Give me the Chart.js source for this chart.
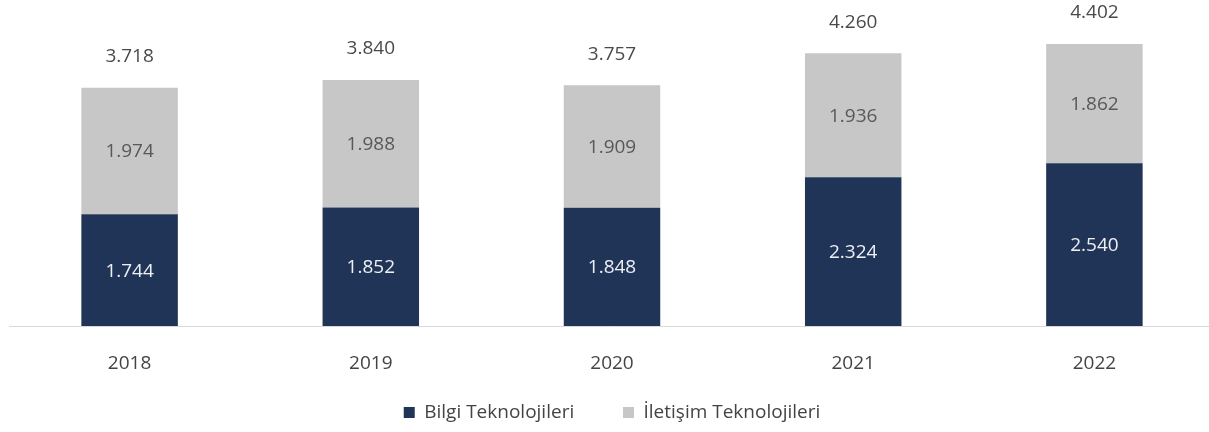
<!DOCTYPE html>
<html>
<head>
<meta charset="utf-8">
<script src="https://cdn.jsdelivr.net/npm/chart.js@4"></script>
<style>
  html, body { margin: 0; padding: 0; background: #fff; overflow: hidden; }
  #wrap { width: 1215px; height: 432px; }
</style>
</head>
<body>
<div id="wrap"><canvas id="chart"></canvas></div>
<script>
var years = ["2018", "2019", "2020", "2021", "2022"];
var bilgi = [1744, 1852, 1848, 2324, 2540];
var iletisim = [1974, 1988, 1909, 1936, 1862];
var totals = [3718, 3840, 3757, 4260, 4402];

function fmt(v) {
    return v.toLocaleString("tr-TR");
}

// labels inside the bars and totals on top
var barLabels = {
    id: "barLabels",
    afterDatasetsDraw: function(chart) {
        var ctx = chart.ctx;
        ctx.save();
        ctx.textAlign = "center";
        ctx.textBaseline = "middle";
        ctx.font = "19px 'Open Sans'";
        chart.data.datasets.forEach(function(ds, di) {
            chart.getDatasetMeta(di).data.forEach(function(bar, i) {
                var mid = (bar.y + bar.base) / 2;
                ctx.fillStyle = di === 0 ? "#eef0f4" : "#585858";
                ctx.fillText(fmt(ds.data[i]), bar.x, mid + 1);
            });
        });
        var top = chart.getDatasetMeta(1).data;
        ctx.fillStyle = "#4a4a4a";
        top.forEach(function(bar, i) {
            ctx.fillText(fmt(totals[i]), bar.x, bar.y - 31);
        });
        ctx.restore();
    }
};

var ctx = document.getElementById("chart");
var myChart = new Chart(ctx, {
    type: "bar",
    data: {
        labels: years,
        datasets: [
            {
                label: "Bilgi Teknolojileri",
                data: bilgi,
                backgroundColor: "#1f3456"
            },
            {
                label: "İletişim Teknolojileri",
                data: iletisim,
                backgroundColor: "#c7c7c7"
            }
        ]
    },
    options: {
        responsive: true,
        maintainAspectRatio: false,
        animation: false,
        layout: { padding: { left: 9, right: 0, top: 0, bottom: 0 } },
        datasets: {
            bar: { barPercentage: 0.4, categoryPercentage: 1 }
        },
        scales: {
            x: {
                stacked: true,
                grid: { display: false, drawTicks: false },
                border: { display: true, color: "#d9d9d9", width: 1 },
                ticks: {
                    color: "#444444",
                    padding: 26,
                    font: { family: "'Open Sans'", size: 19 }
                },
                afterFit: function(scale) {
                    scale.height = 43;
                }
            },
            y: {
                stacked: true,
                display: false,
                min: 0,
                max: 5090
            }
        },
        plugins: {
            tooltip: { enabled: false },
            legend: {
                position: "bottom",
                labels: {
                    boxWidth: 11,
                    boxHeight: 11,
                    padding: 34,
                    color: "#444444",
                    font: { family: "'Open Sans'", size: 19 },
                    generateLabels: function(chart) {
                        var items = Chart.defaults.plugins.legend.labels.generateLabels(chart);
                        items[0].text = items[0].text + "   ";
                        return items;
                    }
                }
            }
        }
    },
    plugins: [barLabels]
});
</script>
</body>
</html>
